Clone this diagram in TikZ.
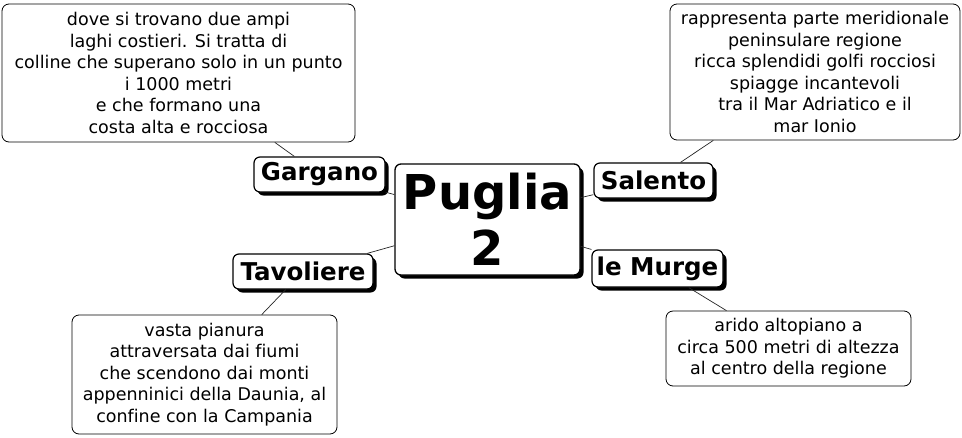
\documentclass[tikz,border=0pt]{standalone}
\usepackage{fontspec}
\setmainfont[Ligatures=NoCommon]{DejaVu Sans}
\usepackage{tikz}
\usetikzlibrary{shadows}

\begin{document}
\begin{tikzpicture}[x=1pt,y=-1pt,
  main/.style={draw,line width=1.3pt,rounded corners=6pt,fill=white,inner sep=0pt,align=center,
    font=\bfseries\fontsize{48}{56}\selectfont,
    drop shadow={shadow xshift=3.5pt,shadow yshift=-3.5pt,opacity=1,fill=black}},
  topic/.style={draw,line width=1.2pt,rounded corners=6pt,fill=white,inner sep=0pt,
    font=\bfseries\fontsize{24.5}{28}\selectfont,
    drop shadow={shadow xshift=3.5pt,shadow yshift=-3.5pt,opacity=1,fill=black}},
  desc/.style={draw,line width=0.8pt,rounded corners=7pt,fill=white,inner sep=0pt,align=center,
    font=\fontsize{17.5}{21.5}\selectfont},
  link/.style={draw=black!85,line width=0.7pt}
]
\useasboundingbox (0,0) rectangle (962,437);
% central topic
\node[main,minimum width=185pt,minimum height=111pt] (puglia) at (487.5,219.5) {Puglia\\2};
% main topics
\node[topic,minimum width=131pt,minimum height=35pt] (gargano) at (319.5,174.5) {Gargano};
\node[topic,minimum width=119pt,minimum height=35pt] (salento) at (653.5,180.5) {Salento};
\node[topic,minimum width=140pt,minimum height=35pt] (tavoliere) at (303,271.5) {Tavoliere};
\node[topic,minimum width=131pt,minimum height=37pt] (murge) at (657.5,268.5) {le Murge};
% descriptions
\node[desc,minimum width=353pt,minimum height=138pt] (garganoD) at (178.5,73)
  {dove si trovano due ampi\\laghi costieri. Si tratta di\\colline che superano solo in un punto\\i 1000 metri\\e che formano una\\costa alta e rocciosa};
\node[desc,minimum width=290pt,minimum height=136pt] (salentoD) at (815,72)
  {rappresenta parte meridionale\\peninsulare regione\\ricca splendidi golfi rocciosi\\spiagge incantevoli\\tra il Mar Adriatico e il\\mar Ionio};
\node[desc,minimum width=265pt,minimum height=119pt] (tavoliereD) at (204.5,374.5)
  {vasta pianura\\attraversata dai fiumi\\che scendono dai monti\\appenninici della Daunia, al\\confine con la Campania};
\node[desc,minimum width=245pt,minimum height=75pt] (murgeD) at (788.5,348.5)
  {arido altopiano a\\circa 500 metri di altezza\\al centro della regione};
% links
\draw[link] (gargano) -- (puglia);
\draw[link] (salento) -- (puglia);
\draw[link] (tavoliere) -- (puglia);
\draw[link] (murge) -- (puglia);
\draw[link] (garganoD) -- (gargano);
\draw[link] (salentoD) -- (salento);
\draw[link] (tavoliereD) -- (tavoliere);
\draw[link] (murgeD) -- (murge);
\end{tikzpicture}
\end{document}
